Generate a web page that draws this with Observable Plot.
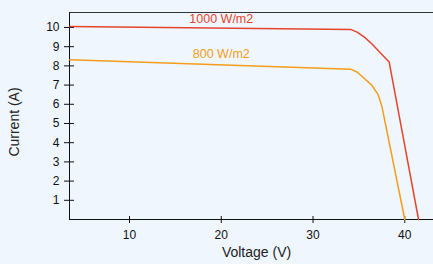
<!DOCTYPE html>
<html>
<head>
<meta charset="utf-8">
<script src="https://cdn.jsdelivr.net/npm/d3@7"></script>
<script src="https://cdn.jsdelivr.net/npm/@observablehq/plot@0.6"></script>
<style>
  html, body { margin: 0; padding: 0; background: #f0f6fe; }
  #chart svg { display: block; }
</style>
</head>
<body>
<div id="chart"></div>
<script>
// I-V curves of a PV module at two irradiance levels
const voltage1000 = [3.5, 34.1, 34.8, 35.6, 36.4, 37.4, 38.3, 41.5];
const current1000 = [10.05, 9.9, 9.76, 9.5, 9.15, 8.65, 8.2, 0];
const voltage800 = [3.5, 34.1, 34.8, 35.5, 36.4, 37.1, 37.5, 40.0];
const current800 = [8.32, 7.83, 7.68, 7.38, 7.0, 6.5, 5.9, 0];

const seriesNames = ["1000 W/m2", "800 W/m2"];
const seriesColors = ["#e6452c", "#f59d1a"];
const labelVoltage = [20, 20];
const labelCurrent = [10.42, 8.62];

const xTicks = [10, 20, 30, 40];
const yTicks = [1, 2, 3, 4, 5, 6, 7, 8, 9, 10];
const xDomain = [3.46, 43.13];
const yDomain = [0, 10.78];

const rows = [
  ...voltage1000.map((v, i) => ({series: seriesNames[0], V: v, I: current1000[i]})),
  ...voltage800.map((v, i) => ({series: seriesNames[1], V: v, I: current800[i]}))
];
const labels = seriesNames.map((s, i) => ({series: s, V: labelVoltage[i], I: labelCurrent[i]}));

const chart = Plot.plot({
  width: 433,
  height: 264,
  marginLeft: 69,
  marginRight: 0,
  marginTop: 12,
  marginBottom: 45,
  style: {background: "#f0f6fe", fontFamily: "'Liberation Sans', Arial, sans-serif", fontSize: "12px", color: "#111"},
  x: {domain: xDomain, axis: null},
  y: {domain: yDomain, axis: null},
  color: {domain: seriesNames, range: seriesColors},
  marks: [
    Plot.ruleY([yDomain[1]], {stroke: "#333", strokeWidth: 1.2}),
    Plot.ruleY([0], {stroke: "#111"}),
    Plot.ruleX([xDomain[0]], {stroke: "#111"}),
    Plot.axisY({ticks: yTicks, tickSize: 10, dx: 5, tickPadding: 5, label: null, fontSize: 12}),
    Plot.axisX({ticks: xTicks, tickSize: 7, dy: -3, tickPadding: 7, label: null, fontSize: 12}),
    Plot.line(rows, {x: "V", y: "I", z: "series", stroke: "series", strokeWidth: 1.5}),
    Plot.text(labels, {x: "V", y: "I", text: "series", fill: "series", fontSize: 12.5, textAnchor: "middle", lineAnchor: "middle"}),
    Plot.text(["Voltage (V)"], {text: d => d, frameAnchor: "bottom", textAnchor: "middle", lineAnchor: "middle", dx: 5, dy: 33.5, fontSize: 14, fill: "#222"}),
    Plot.text(["Current (A)"], {text: d => d, frameAnchor: "left", textAnchor: "middle", lineAnchor: "middle", rotate: -90, dx: -55, dy: 6, fontSize: 14, fill: "#222"})
  ]
});
document.getElementById("chart").append(chart);
</script>
</body>
</html>
